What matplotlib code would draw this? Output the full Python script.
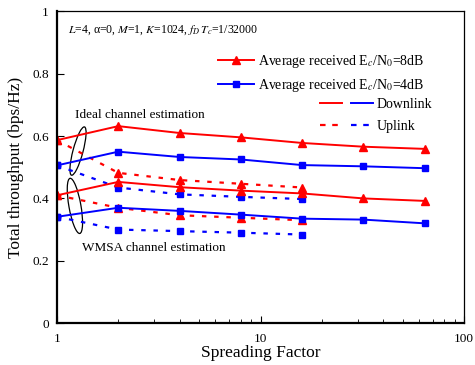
import matplotlib
matplotlib.use('Agg')
import matplotlib.pyplot as plt
import matplotlib.transforms as mtransforms
from matplotlib.patches import Ellipse
from matplotlib.lines import Line2D
from matplotlib.legend_handler import HandlerTuple

plt.rcParams['font.family'] = 'Liberation Serif'
plt.rcParams['mathtext.fontset'] = 'stix'

# spreading factors
sf_down = [1, 2, 4, 8, 16, 32, 64]
sf_up = [1, 2, 4, 8, 16]

# ideal channel estimation
ideal_8db_down = [0.587, 0.632, 0.610, 0.596, 0.578, 0.566, 0.559]
ideal_4db_down = [0.506, 0.550, 0.533, 0.525, 0.507, 0.503, 0.497]
ideal_8db_up = [0.587, 0.482, 0.459, 0.447, 0.435]
ideal_4db_up = [0.506, 0.435, 0.413, 0.405, 0.398]

# WMSA channel estimation
wmsa_8db_down = [0.410, 0.453, 0.436, 0.425, 0.416, 0.400, 0.392]
wmsa_4db_down = [0.341, 0.370, 0.360, 0.348, 0.335, 0.332, 0.320]
wmsa_8db_up = [0.410, 0.370, 0.346, 0.338, 0.330]
wmsa_4db_up = [0.341, 0.300, 0.295, 0.290, 0.284]

y_ticks = [0, 0.2, 0.4, 0.6, 0.8, 1]
y_tick_labels = ['0', '0.2', '0.4', '0.6', '0.8', '1']

red = '#ff0000'
blue = '#0000ff'
dash = (0, (2, 3.5))

fig = plt.figure(figsize=(4.75, 3.65), dpi=100)
ax = fig.add_axes([0.12, 0.115, 0.857, 0.8535])

# uplink (dashed)
ax.plot(sf_up, ideal_8db_up, color=red, ls=dash, lw=1.6, marker='^', ms=6)
ax.plot(sf_up, ideal_4db_up, color=blue, ls=dash, lw=1.6, marker='s', ms=5)
ax.plot(sf_up, wmsa_8db_up, color=red, ls=dash, lw=1.6, marker='^', ms=6)
ax.plot(sf_up, wmsa_4db_up, color=blue, ls=dash, lw=1.6, marker='s', ms=5)

# downlink (solid)
ax.plot(sf_down, ideal_8db_down, color=red, lw=1.4, marker='^', ms=6)
ax.plot(sf_down, ideal_4db_down, color=blue, lw=1.4, marker='s', ms=5)
ax.plot(sf_down, wmsa_8db_down, color=red, lw=1.4, marker='^', ms=6)
ax.plot(sf_down, wmsa_4db_down, color=blue, lw=1.4, marker='s', ms=5)

ax.set_xscale('log')
ax.set_xlim(1, 100)
ax.set_ylim(0, 1)
ax.set_yticks(y_ticks)
ax.set_yticklabels(y_tick_labels)
ax.set_xticks([1, 10, 100])
ax.set_xticklabels(['1', '10', '100'])
ax.tick_params(axis='both', which='both', direction='in', top=False, right=False,
               labelsize=9.5, colors='black')
ax.tick_params(axis='x', which='major', length=5, pad=7)
ax.tick_params(axis='x', which='minor', length=3)
ax.tick_params(axis='y', which='major', length=5, pad=6)

for side in ['left', 'bottom']:
    ax.spines[side].set_linewidth(1.6)
for side in ['top', 'right']:
    ax.spines[side].set_linewidth(0.9)

ax.set_xlabel('Spreading Factor', fontsize=12.5, labelpad=0)
ax.set_ylabel('Total throughput (bps/Hz)', fontsize=12.5, labelpad=6)

# parameter text
ax.text(0.027, 0.941, r'$L$=4, α=0, $M$=1, $K$=1024, $f_D\,T_c$=1/32000',
        transform=ax.transAxes, fontsize=8.5, va='center', ha='left')

# ellipses around the SF=1 points
trans1 = fig.dpi_scale_trans + mtransforms.ScaledTranslation(0.0516, 0.552, ax.transAxes)
ax.add_patch(Ellipse((0, 0), 0.1, 0.5, angle=-15, fill=False, lw=0.9,
                     edgecolor='black', transform=trans1, clip_on=False))
trans2 = fig.dpi_scale_trans + mtransforms.ScaledTranslation(0.044, 0.376, ax.transAxes)
ax.add_patch(Ellipse((0, 0), 0.12, 0.56, angle=10, fill=False, lw=0.9,
                     edgecolor='black', transform=trans2, clip_on=False))

ax.text(0.044, 0.668, 'Ideal channel estimation', transform=ax.transAxes,
        fontsize=9.5, va='center', ha='left')
ax.text(0.061, 0.241, 'WMSA channel estimation', transform=ax.transAxes,
        fontsize=9.5, va='center', ha='left')

# legends
h8 = Line2D([], [], color=red, lw=1.4, marker='^', ms=6)
h4 = Line2D([], [], color=blue, lw=1.4, marker='s', ms=4)
leg1 = ax.legend([h8, h4],
                 [r'Average received E$_c$/N$_0$=8dB', r'Average received E$_c$/N$_0$=4dB'],
                 loc='upper left', bbox_to_anchor=(0.396, 0.866), frameon=False,
                 fontsize=10, handlelength=2.6, handletextpad=0.3,
                 labelspacing=0.5, borderpad=0, borderaxespad=0)
ax.add_artist(leg1)

rd = Line2D([], [], color=red, lw=1.4)
bd = Line2D([], [], color=blue, lw=1.4)
ru = Line2D([], [], color=red, lw=1.6, ls=(0, (2.5, 3)))
bu = Line2D([], [], color=blue, lw=1.6, ls=(0, (2.5, 3)))
ax.legend([(rd, bd), (ru, bu)], ['Downlink', 'Uplink'],
          handler_map={tuple: HandlerTuple(ndivide=None, pad=0.6)},
          loc='upper left', bbox_to_anchor=(0.646, 0.722), frameon=False,
          fontsize=10, handlelength=3.8, handletextpad=0.3,
          labelspacing=0.65, borderpad=0, borderaxespad=0)

fig.savefig('out.png', dpi=100)
